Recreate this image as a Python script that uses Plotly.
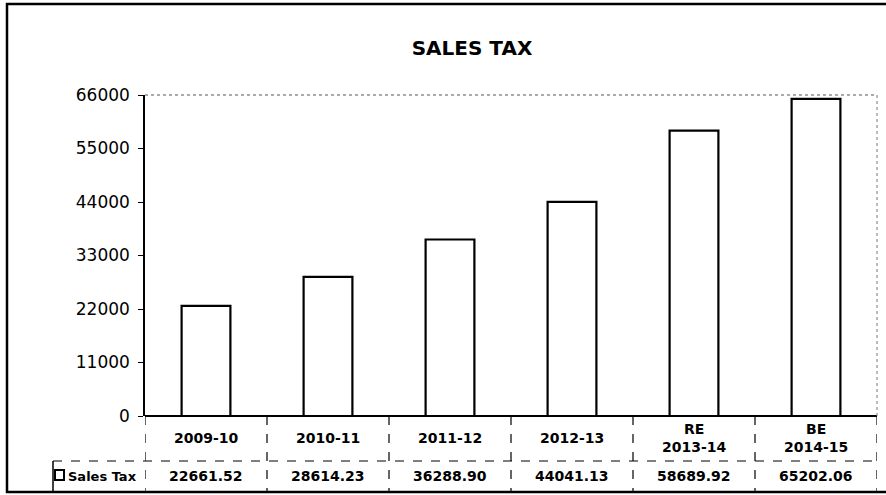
import plotly.graph_objects as go

W, H = 886, 495

# data
categories = ["2009-10", "2010-11", "2011-12", "2012-13", "RE<br>2013-14", "BE<br>2014-15"]
sales_tax = [22661.52, 28614.23, 36288.90, 44041.13, 58689.92, 65202.06]
value_labels = ["22661.52", "28614.23", "36288.90", "44041.13", "58689.92", "65202.06"]
series_name = "Sales Tax"
y_ticks = [0, 11000, 22000, 33000, 44000, 55000, 66000]

FONT = "DejaVu Sans"


def px(x):
    return x / W


def py(y):
    return 1 - y / H


# plot area in pixels
L, R, T, B = 145, 877, 95, 416
ROW1 = 461   # line between category row and value row
BOT = 492

fig = go.Figure()
fig.add_trace(
    go.Bar(
        x=categories,
        y=sales_tax,
        name=series_name,
        marker={"color": "white", "line": {"color": "black", "width": 2.2}},
        hoverinfo="x+y",
        showlegend=False,
    )
)

shapes = []
annotations = []

# outer frame
shapes.append(dict(type="rect", xref="paper", yref="paper",
                   x0=px(7), x1=px(892), y0=py(492), y1=py(4),
                   line={"color": "black", "width": 2.5}))
# dotted top + right of the plot area
shapes.append(dict(type="line", xref="paper", yref="paper",
                   x0=px(L), x1=px(R), y0=py(T), y1=py(T),
                   line={"color": "#555", "width": 1, "dash": "dot"}))
shapes.append(dict(type="line", xref="paper", yref="paper",
                   x0=px(R), x1=px(R), y0=py(T), y1=py(B),
                   line={"color": "#777", "width": 1, "dash": "dot"}))

# data table lines
shapes.append(dict(type="line", xref="paper", yref="paper",
                   x0=px(53), x1=px(R), y0=py(ROW1), y1=py(ROW1),
                   line={"color": "black", "width": 1.2, "dash": "dash"}))
shapes.append(dict(type="line", xref="paper", yref="paper",
                   x0=px(53), x1=px(53), y0=py(ROW1), y1=py(BOT),
                   line={"color": "black", "width": 1.5}))
for i in range(len(categories) + 1):
    shapes.append(dict(type="line", xref="x", yref="paper",
                       x0=i - 0.5, x1=i - 0.5, y0=py(B), y1=py(BOT),
                       line={"color": "black", "width": 1.2, "dash": "dash"}))

# legend key
shapes.append(dict(type="rect", xref="paper", yref="paper",
                   x0=px(55), x1=px(64), y0=py(480), y1=py(470),
                   line={"color": "black", "width": 2}, fillcolor="white"))
annotations.append(dict(xref="paper", yref="paper", x=px(66), y=py(476),
                        text="<b>" + series_name + "</b>", showarrow=False,
                        xanchor="left", yanchor="middle",
                        font={"family": FONT, "size": 13, "color": "black"}))

for cat, val in zip(categories, value_labels):
    annotations.append(dict(xref="x", yref="paper", x=cat, y=py(438),
                            text="<b>" + cat + "</b>", showarrow=False,
                            yanchor="middle",
                            font={"family": FONT, "size": 14, "color": "black"}))
    annotations.append(dict(xref="x", yref="paper", x=cat, y=py(476),
                            text="<b>" + val + "</b>", showarrow=False,
                            yanchor="middle",
                            font={"family": FONT, "size": 14, "color": "black"}))

fig.update_layout(
    width=W,
    height=H,
    margin={"l": 0, "r": 0, "t": 0, "b": 0, "autoexpand": False},
    paper_bgcolor="white",
    plot_bgcolor="white",
    bargap=0.6,
    title={
        "text": "<b>SALES TAX</b>",
        "x": px(472),
        "xanchor": "center",
        "y": py(48),
        "yanchor": "middle",
        "font": {"family": FONT, "size": 20, "color": "black"},
    },
    xaxis={
        "type": "category",
        "domain": [px(L), px(R)],
        "range": [-0.5, len(categories) - 0.5],
        "showticklabels": False,
        "showgrid": False,
        "zeroline": False,
        "showline": False,
        "ticks": "",
        "automargin": False,
        "fixedrange": True,
    },
    yaxis={
        "domain": [py(B), py(T)],
        "range": [0, 66000],
        "tickvals": y_ticks,
        "tickformat": "d",
        "showgrid": False,
        "zeroline": True,
        "zerolinecolor": "black",
        "zerolinewidth": 2,
        "showline": True,
        "linecolor": "black",
        "linewidth": 1.5,
        "ticks": "outside",
        "ticklen": 5,
        "tickcolor": "black",
        "ticklabelstandoff": 5,
        "tickfont": {"family": FONT, "size": 17, "color": "black"},
        "automargin": False,
        "fixedrange": True,
    },
    shapes=shapes,
    annotations=annotations,
)

# the page body has a default 8px margin; drop it so the figure sits at 0,0
fig.write_html(
    "out.html",
    config={"displayModeBar": False},
    post_script="document.body.style.margin = '0';",
)
